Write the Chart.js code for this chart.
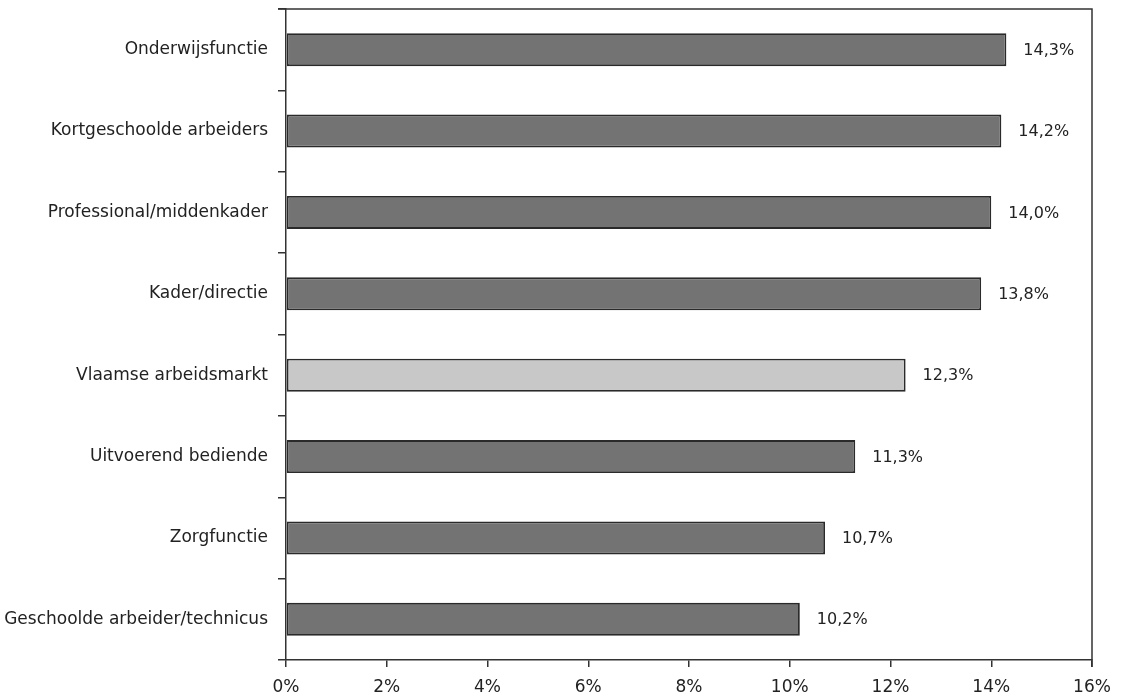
<!DOCTYPE html>
<html>
<head>
<meta charset="utf-8">
<script src="https://cdn.jsdelivr.net/npm/chart.js@4/dist/chart.umd.min.js"></script>
<style>
  html, body { margin: 0; padding: 0; background: #fff; }
  #wrap { width: 1123px; height: 697px; }
</style>
</head>
<body>
<div id="wrap"><canvas id="bar-chart"></canvas></div>
<script>
var categorie = ['Onderwijsfunctie', 'Kortgeschoolde arbeiders', 'Professional/middenkader', 'Kader/directie',
    'Vlaamse arbeidsmarkt', 'Uitvoerend bediende', 'Zorgfunctie', 'Geschoolde arbeider/technicus'];
var percentages = [14.3, 14.2, 14.0, 13.8, 12.3, 11.3, 10.7, 10.2];
var kleuren = ['#737373', '#737373', '#737373', '#737373', '#c8c8c8', '#737373', '#737373', '#737373'];
var asMax = 16;
var asStap = 2;

var fontNaam = 'DejaVu Sans, sans-serif';

// kader rond de grafiek (boven en rechts)
var kader = {
    id: 'kader',
    afterDraw: function(chart) {
        var ctx = chart.ctx, a = chart.chartArea;
        ctx.save();
        ctx.strokeStyle = '#333';
        ctx.lineWidth = 1.5;
        ctx.beginPath();
        ctx.moveTo(a.left - 8, a.top);
        ctx.lineTo(a.right, a.top);
        ctx.lineTo(a.right, a.bottom + 7);
        ctx.stroke();
        ctx.restore();
    }
};

// waarden naast de balken
var labels = {
    id: 'labels',
    afterDatasetsDraw: function(chart) {
        var ctx = chart.ctx;
        var meta = chart.getDatasetMeta(0);
        ctx.save();
        ctx.font = '16px ' + fontNaam;
        ctx.fillStyle = '#222';
        ctx.textBaseline = 'middle';
        ctx.textAlign = 'left';
        meta.data.forEach(function(bar, i) {
            var tekst = percentages[i].toFixed(1).replace('.', ',') + '%';
            ctx.fillText(tekst, bar.x + 17, bar.y + 1);
        });
        ctx.restore();
    }
};

var ctx = document.getElementById('bar-chart').getContext('2d');
var chart = new Chart(ctx, {
    type: 'bar',
    data: {
        labels: categorie,
        datasets: [{
            data: percentages,
            backgroundColor: kleuren,
            borderColor: '#2a2a2a',
            borderWidth: 1.8,
            borderSkipped: false,
            categoryPercentage: 1,
            barPercentage: 0.405
        }]
    },
    options: {
        indexAxis: 'y',
        responsive: true,
        maintainAspectRatio: false,
        animation: false,
        layout: { padding: { top: 9, right: 31, left: 0, bottom: 0 } },
        plugins: { legend: { display: false }, tooltip: { enabled: false } },
        scales: {
            x: {
                min: 0,
                max: asMax,
                ticks: {
                    stepSize: asStap,
                    color: '#222',
                    font: { family: fontNaam, size: 17 },
                    padding: 10,
                    callback: function(v) { return v + '%'; }
                },
                grid: { drawOnChartArea: false, tickLength: 7, color: '#333', lineWidth: 1.5 },
                border: { color: '#333', width: 1.5 },
                afterFit: function(s) { s.height = 37; s.paddingLeft = 0; s.paddingRight = 0; }
            },
            y: {
                ticks: {
                    color: '#222',
                    font: { family: fontNaam, size: 17 },
                    padding: 10
                },
                grid: { offset: true, drawOnChartArea: false, tickLength: 8, color: '#333', lineWidth: 1.5 },
                border: { color: '#333', width: 1.5 },
                afterFit: function(s) { s.width = 286; s.paddingTop = 0; s.paddingBottom = 0; }
            }
        }
    },
    plugins: [kader, labels]
});
</script>
</body>
</html>
